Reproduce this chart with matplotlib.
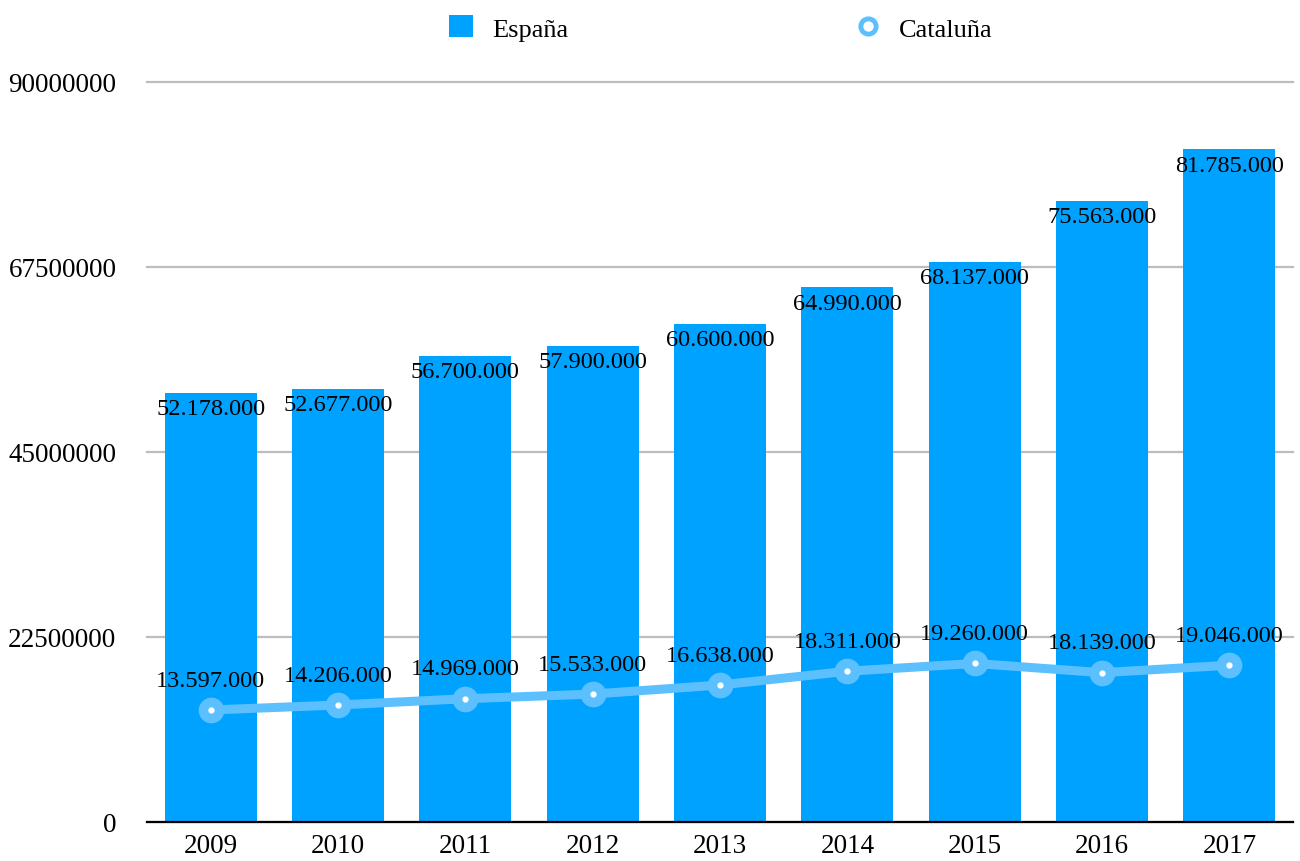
import matplotlib
matplotlib.use("Agg")
import matplotlib.pyplot as plt
from matplotlib.lines import Line2D
from matplotlib.patches import Patch

years = ["2009", "2010", "2011", "2012", "2013", "2014", "2015", "2016", "2017"]
espana = [52178000, 52677000, 56700000, 57900000, 60600000, 64990000, 68137000, 75563000, 81785000]
cataluna = [13597000, 14206000, 14969000, 15533000, 16638000, 18311000, 19260000, 18139000, 19046000]
yticks = [0, 22500000, 45000000, 67500000, 90000000]

plt.rcParams['font.family'] = ['Liberation Serif', 'DejaVu Serif']

BAR = '#00A2FF'
LINE = '#5CC0FF'

def fmt(v):
    return f"{v:,}".replace(",", ".")

fig = plt.figure(figsize=(13, 8.62), dpi=100)
ax = fig.add_axes([147/1300, (862-822.8)/862, (1293-147)/1300, (822.8-82.8)/862])

x = list(range(len(years)))
ax.bar(x, espana, width=0.72, color=BAR, zorder=2)
ax.plot(x, cataluna, color=LINE, lw=6.5, zorder=3, solid_capstyle='round')
ax.plot(x, cataluna, 'o', ms=17.5, color=LINE, zorder=4)
ax.plot(x, cataluna, 'o', ms=3.5, color='white', zorder=5)

for xi, v in zip(x, espana):
    ax.annotate(fmt(v), (xi, v), xytext=(0, -11.5), textcoords='offset points',
                ha='center', va='center', fontsize=17.5, zorder=6)
for xi, v in zip(x, cataluna):
    ax.annotate(fmt(v), (xi, v), xytext=(0, 21.5), textcoords='offset points',
                ha='center', va='center', fontsize=17.5, zorder=6)

ax.set_xlim(-0.5, len(years) - 0.5)
ax.set_ylim(0, 90000000)
ax.set_yticks(yticks)
ax.set_yticklabels([str(t) for t in yticks])
ax.set_xticks(x)
ax.set_xticklabels(years)
ax.tick_params(axis='both', length=0, labelsize=19.5)
ax.tick_params(axis='y', pad=22)
ax.tick_params(axis='x', pad=8)
for s in ['left', 'right', 'top']:
    ax.spines[s].set_visible(False)
ax.spines['bottom'].set_linewidth(1.6)
ax.spines['bottom'].set_color('black')
ax.spines['bottom'].set_zorder(7)
ax.yaxis.grid(True, color='#BDBDBD', lw=1.6, zorder=0)
for gl in ax.yaxis.get_gridlines():
    gl.set_clip_on(False)
ax.set_axisbelow(True)

handles = [Patch(facecolor=BAR, edgecolor='none'),
           Line2D([], [], marker='o', ls='none', ms=11, mfc='white', mec=LINE, mew=3.5)]
fig.legend(handles, ['España', 'Cataluña'], loc='center', bbox_to_anchor=(0.5546, 1 - 29/862),
           ncol=2, frameon=False, fontsize=19, columnspacing=10.9, handlelength=0.9,
           handleheight=0.9, handletextpad=0.74)

fig.savefig('out.png', dpi=100)
